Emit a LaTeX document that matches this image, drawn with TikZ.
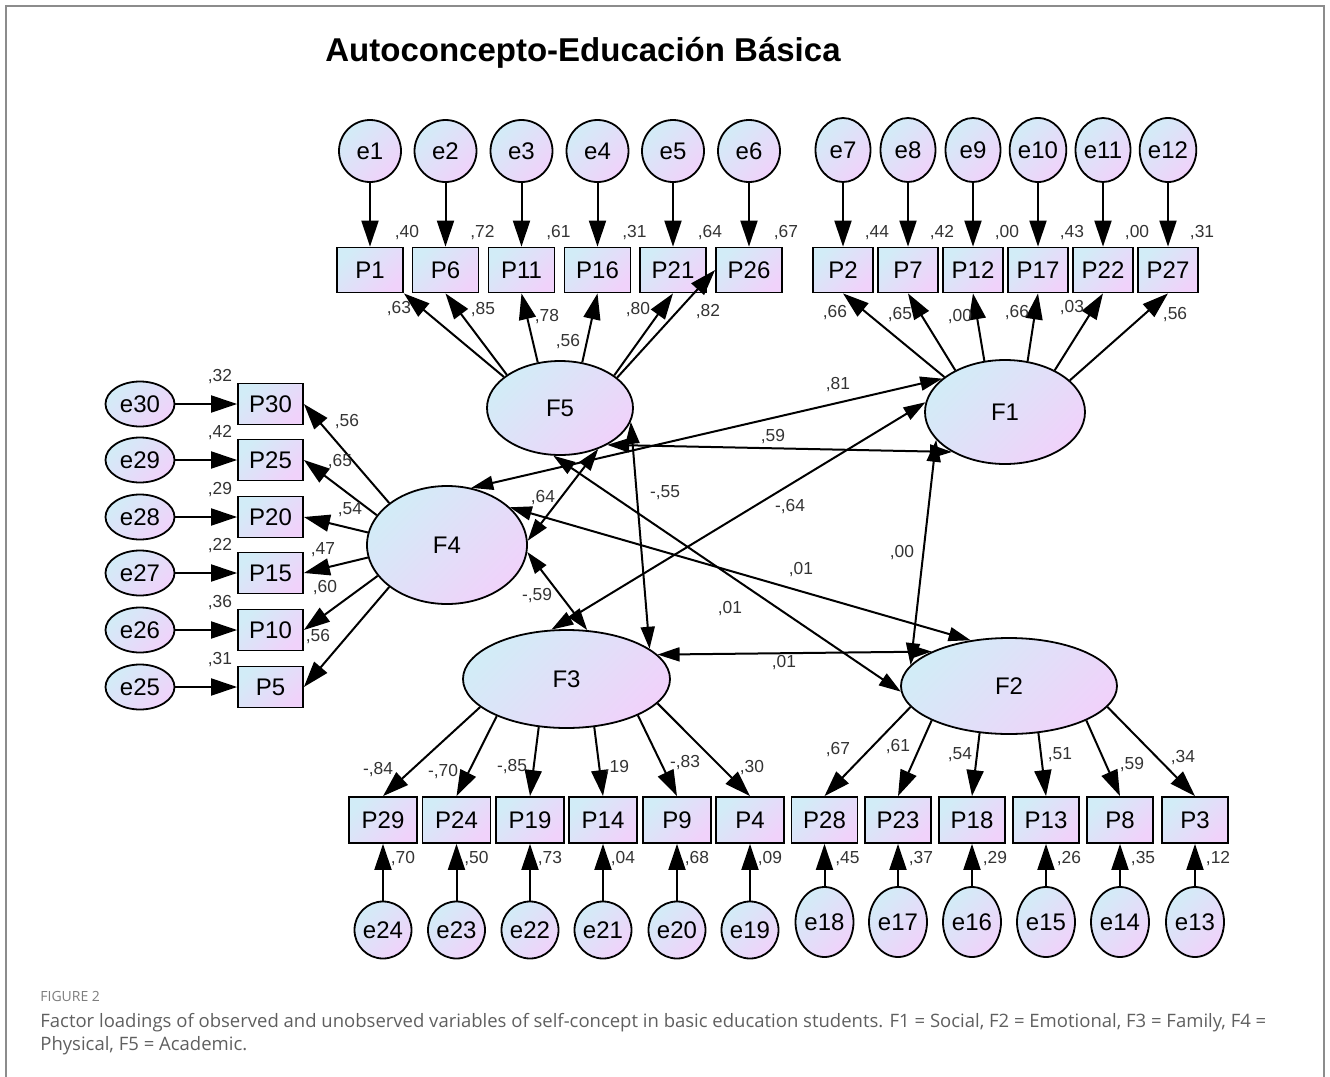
\documentclass[tikz,border=0pt]{standalone}
\usepackage{fontspec}
\setmainfont{Liberation Sans}
\newfontfamily\capfont{Open Sans}
\usetikzlibrary{arrows.meta,shapes.geometric}

\definecolor{shBlue}{RGB}{210,236,247}
\definecolor{shPink}{RGB}{240,210,250}
\definecolor{frameGray}{RGB}{140,140,140}
\definecolor{capGray}{RGB}{95,95,95}
\definecolor{figGray}{RGB}{125,125,125}

\begin{document}
\begin{tikzpicture}[x=0.5pt, y=-0.5pt,
  grad/.style={draw=black, line width=0.9pt, left color=shBlue, right color=shPink, shading angle=45},
  lat/.style={grad, ellipse, inner sep=0pt, font=\fontsize{12}{14}\selectfont},
  obs/.style={grad, rectangle, inner sep=0pt, minimum width=33pt, minimum height=22.5pt,
              font=\fontsize{12}{14}\selectfont},
  err/.style={grad, ellipse, inner sep=0pt, font=\fontsize{12}{14}\selectfont},
  num/.style={font=\fontsize{8.7}{10}\selectfont, inner sep=0pt, text=black!80},
  arr/.style={-{Triangle[length=13pt,width=8.5pt]}, line width=1pt},
  cov/.style={{Triangle[length=11pt,width=7pt]}-{Triangle[length=11pt,width=7pt]}, line width=1pt}
]
\useasboundingbox (0,0) rectangle (1330,1077);
\draw[frameGray, line width=1pt] (6,1077) -- (6,6) -- (1324,6) -- (1324,1077);

\node[font=\bfseries\fontsize{16.5}{20}\selectfont] (title) at (583,53) {Autoconcepto-Educación Básica};

% latent factors
\node[lat, minimum width=73pt, minimum height=47pt] (F5) at (560,408) {F5};
\node[lat, minimum width=80pt, minimum height=52pt] (F1) at (1005,412) {F1};
\node[lat, minimum width=80pt, minimum height=59pt] (F4) at (447,545) {F4};
\node[lat, minimum width=103.5pt, minimum height=49pt] (F3) at (566.5,679) {F3};
\node[lat, minimum width=108pt, minimum height=48pt] (F2) at (1009,686) {F2};

% F5 items (top left)
\foreach \pn/\en/\px/\an/\tip/\rv/\lv/\lx/\ly in {
  1/1/370/151/south east/40/63/399/309,
  6/2/445.5/148/south/72/85/483/310,
  11/3/521.5/116/south/61/78/547/317,
  16/4/597.5/64/south/31/56/568/342,
  21/5/673/31/south/64/80/638/310,
  26/6/749/28/west/67/82/708/312}
{
  \node[obs] (P\pn) at (\px,270) {P\pn};
  \node[err, minimum size=31pt] (e\en) at (\px,151) {e\en};
  \draw[arr] (e\en) -- (P\pn);
  \draw[arr] (F5.\an) -- (P\pn.\tip);
  \node[num] (r\pn) at (\px+37,233) {,\rv};
  \node[num] (l\pn) at (\lx,\ly) {,\lv};
}

% F1 items (top right)
\foreach \pn/\en/\px/\an/\rv/\lv/\lx/\ly in {
  2/7/843/150/44/66/835/313,
  7/8/908/140/42/65/900/315,
  12/9/973/112/00/00/960/317,
  17/10/1038/66/43/66/1017/313,
  22/11/1103/40/00/03/1072/308,
  27/12/1168/26/31/56/1175/315}
{
  \node[obs, minimum width=30pt] (P\pn) at (\px,270) {P\pn};
  \node[err, minimum width=27.5pt, minimum height=32pt] (e\en) at (\px,150) {e\en};
  \draw[arr] (e\en) -- (P\pn);
  \draw[arr] (F1.\an) -- (P\pn.south);
  \node[num] (r\pn) at (\px+34,233) {,\rv};
  \node[num] (l\pn) at (\lx,\ly) {,\lv};
}

% F4 items (left)
\foreach \pn/\en/\py/\an/\rv/\lv/\lx/\ly in {
  30/30/404/144/32/56/347/422,
  25/29/460/157/42/65/340/462,
  20/28/517/171/29/54/350/510,
  15/27/573/189/22/47/323/550,
  10/26/630/204/36/60/325/588,
  5/25/687/216/31/56/318/637}
{
  \node[obs, minimum width=32.5pt, minimum height=20.5pt] (P\pn) at (270.5,\py) {P\pn};
  \node[err, minimum width=34.5pt, minimum height=22.5pt] (e\en) at (140,\py) {e\en};
  \draw[arr] (e\en) -- (P\pn);
  \draw[arr] (F4.\an) -- (P\pn.east);
  \node[num] (r\pn) at (220,\py-27) {,\rv};
  \node[num] (l\pn) at (\lx,\ly) {,\lv};
}

% F3 items (bottom left)
\foreach \pn/\en/\px/\an/\rv/\lv/\lx/\ly in {
  29/24/383/198/70/{-,84}/378/770,
  24/23/456.5/208/50/{-,70}/443/772,
  19/22/530/240/73/{-,85}/512/767,
  14/21/603/300/04/{,19}/617/768,
  9/20/677/333/68/{-,83}/685/763,
  4/19/750/345/09/{,30}/752/768}
{
  \node[obs, minimum width=34pt, minimum height=23pt] (P\pn) at (\px,820) {P\pn};
  \node[err, minimum size=28.5pt] (e\en) at (\px,930) {e\en};
  \draw[arr] (e\en) -- (P\pn);
  \draw[arr] (F3.\an) -- (P\pn.north);
  \node[num] (r\pn) at (\px+20,859) {,\rv};
  \node[num] (l\pn) at (\lx,\ly) {\lv};
}

% F2 items (bottom right)
\foreach \pn/\en/\px/\an/\rv/\lv/\lx/\ly in {
  28/18/824.5/192/45/67/838/750,
  23/17/898/204/37/61/898/747,
  18/16/972/238/29/54/960/755,
  13/15/1046/302/26/51/1060/755,
  8/14/1120/336/35/59/1132/765,
  3/13/1195/348/12/34/1183/758}
{
  \node[obs, minimum width=33pt, minimum height=23pt] (P\pn) at (\px,820) {P\pn};
  \node[err, minimum width=29pt, minimum height=35pt] (e\en) at (\px,922) {e\en};
  \draw[arr] (e\en) -- (P\pn);
  \draw[arr] (F2.\an) -- (P\pn.north);
  \node[num] (r\pn) at (\px+23,859) {,\rv};
  \node[num] (l\pn) at (\lx,\ly) {,\lv};
}

% factor covariances
\draw[cov] (F4.67) -- (F1.152);   \node[num] (c41) at (838,385) {,81};
\draw[cov] (F5.-38) -- (F1.217);  \node[num] (c51) at (773,437) {,59};
\draw[cov] (F5.-11) -- (F3.20);   \node[num] (c53) at (665,493) {-,55};
\draw[cov] (F5.-47) -- (F4.3);    \node[num] (c54) at (543,498) {,64};
\draw[cov] (F1.173) -- (F3.107);  \node[num] (c13) at (790,507) {-,64};
\draw[cov] (F1.202) -- (F2.168);  \node[num] (c12) at (902,553) {,00};
\draw[cov] (F4.31) -- (F2.130);   \node[num] (c42) at (801,570) {,01};
\draw[cov] (F4.-5) -- (F3.67);    \node[num] (c43) at (537,596) {-,59};
\draw[cov] (F5.-98) -- (F2.183);  \node[num] (c52) at (730,609) {,01};
\draw[cov] (F3.15) -- (F2.156);   \node[num] (c32) at (784,663) {,01};

% caption
\node[anchor=west, inner sep=0pt, text=figGray, font=\capfont\fontsize{7}{8}\selectfont] (fig) at (40,996) {FIGURE 2};
\node[anchor=north west, align=left, inner sep=0pt, text=capGray,
      font=\capfont\fontsize{9.25}{11.5}\selectfont] (cap) at (40,1013)
  {Factor loadings of observed and unobserved variables of self-concept in basic education students. F1 = Social, F2 = Emotional, F3 = Family, F4 =\\
   Physical, F5 = Academic.};
\end{tikzpicture}
\end{document}
